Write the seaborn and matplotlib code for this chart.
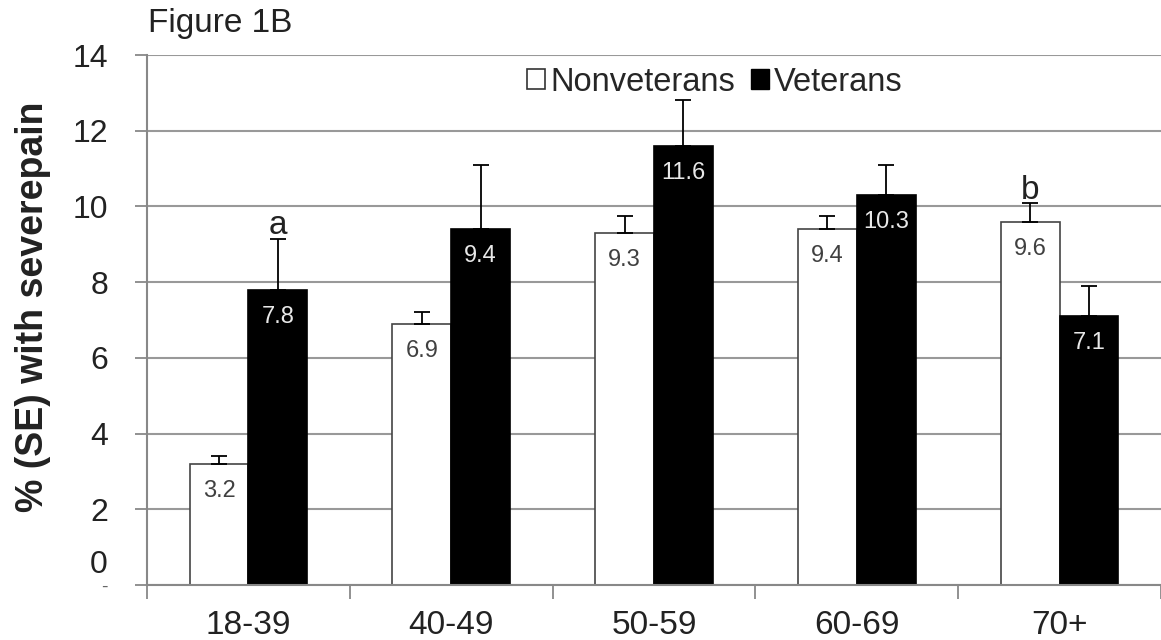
import numpy as np
import pandas as pd
import seaborn as sns
import matplotlib.pyplot as plt
from matplotlib.patches import Patch
from matplotlib.ticker import FixedLocator

sns.set_theme(style="white")
plt.rcParams["font.family"] = ["Liberation Sans", "DejaVu Sans"]

age_groups = ["18-39", "40-49", "50-59", "60-69", "70+"]
groups = ["Nonveterans", "Veterans"]
nonveterans = [3.2, 6.9, 9.3, 9.4, 9.6]
veterans = [7.8, 9.4, 11.6, 10.3, 7.1]
nonveterans_se = [0.2, 0.3, 0.45, 0.35, 0.5]
veterans_se = [1.35, 1.7, 1.2, 0.8, 0.8]
nonveterans_sig = ["", "", "", "", "b"]
veterans_sig = ["a", "", "", "", ""]
y_ticks = [0, 2, 4, 6, 8, 10, 12, 14]
y_tick_labels = ["-", "2", "4", "6", "8", "10", "12", "14"]

df = pd.DataFrame({
    "age": age_groups * 2,
    "group": [groups[0]] * 5 + [groups[1]] * 5,
    "pct": nonveterans + veterans,
})

fig = plt.figure(figsize=(11.61, 6.4), dpi=100)
ax = fig.add_axes([0.1266, 0.0859, 0.8734, 0.8281])

sns.barplot(
    data=df, x="age", y="pct", hue="group",
    order=age_groups, hue_order=groups,
    palette=["white", "black"], saturation=1,
    width=0.58, gap=0, errorbar=None, legend=False,
    edgecolor="#444444", linewidth=1.2, ax=ax,
)

ax.set_xlim(-0.5, 4.5)
ax.set_ylim(0, 14)

label_colors = ["#404040", "#e8e8e8"]
for cont, ses, sigs, lc in zip(ax.containers, [nonveterans_se, veterans_se],
                               [nonveterans_sig, veterans_sig], label_colors):
    for bar, se, sig in zip(cont, ses, sigs):
        x = bar.get_x() + bar.get_width() / 2
        h = bar.get_height()
        if lc != label_colors[0]:
            bar.set_edgecolor("black")
        ax.errorbar(x, h, yerr=[[0], [se]], fmt="none", ecolor="black",
                    elinewidth=1.3, capsize=6, capthick=1.3, zorder=3)
        ax.annotate(f"{h:.1f}", (x, h), xytext=(0, -19.5),
                    textcoords="offset points", ha="center", va="center",
                    fontsize=17, color=lc)
        if sig:
            ax.annotate(sig, (x, h + se), xytext=(0, 3),
                        textcoords="offset points", ha="center",
                        va="baseline", fontsize=24, color="#222222")

# gridlines and axes
ax.yaxis.grid(True, color="#999999", linewidth=1.5)
ax.set_axisbelow(True)
for s in ["top", "right"]:
    ax.spines[s].set_visible(False)
for s in ["left", "bottom"]:
    ax.spines[s].set_color("#888888")
    ax.spines[s].set_linewidth(1.5)

ax.set_yticks(y_ticks)
ax.set_yticklabels(y_tick_labels)
ax.tick_params(axis="y", which="major", left=True, direction="out", length=9,
               width=1.3, color="#888888", pad=19, labelsize=23, labelcolor="#222222")
ytl = ax.get_yticklabels()
ytl[0].set_fontsize(14)
ytl[0].set_color("#666666")
ax.text(-0.0394, 0.53, "0", transform=ax.get_yaxis_transform(), ha="right",
        va="center", fontsize=23, color="#222222")

ax.tick_params(axis="x", which="major", bottom=False, length=0, pad=18,
               labelsize=24, labelcolor="#222222")
ax.xaxis.set_minor_locator(FixedLocator(np.arange(-0.5, 5, 1.0)))
ax.tick_params(axis="x", which="minor", bottom=True, direction="out", length=10,
               width=1.3, color="#888888")
ax.set_xlabel("")

ax.set_ylabel("% (SE) with severepain", fontsize=27, fontweight="bold",
              va="center", color="#222222")
ax.yaxis.set_label_coords(-0.112, 0.526)

handles = [Patch(facecolor="white", edgecolor="#333333", linewidth=1.2),
           Patch(facecolor="black", edgecolor="black")]
ax.legend(handles, groups, loc="center", bbox_to_anchor=(0.56, 0.949), ncol=2,
          frameon=False, fontsize=23.5, handlelength=0.55, handleheight=0.55,
          handletextpad=0.15, columnspacing=0.5)

fig.text(0.1275, 0.964, "Figure 1B", fontsize=24, ha="left", va="center",
         color="#222222")

fig.savefig("out.png", dpi=100)
